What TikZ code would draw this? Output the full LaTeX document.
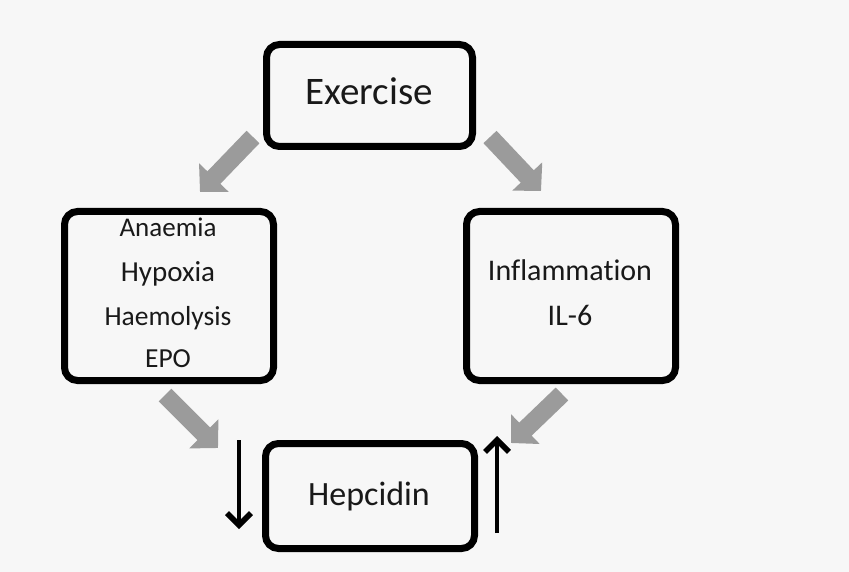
\documentclass[tikz,border=0pt]{standalone}
\usepackage{fontspec}
\setmainfont{Carlito}[Ligatures=NoCommon]
\usetikzlibrary{arrows.meta,shadows}
\definecolor{bg}{RGB}{247,247,247}
\definecolor{arrowgray}{RGB}{155,155,155}
\begin{document}
\begin{tikzpicture}[x=1pt,y=-1pt,
  box/.style={draw=black, line width=7pt, rounded corners=13pt, fill=bg,
    inner sep=0pt, outer sep=0pt,
    drop shadow={shadow xshift=2pt, shadow yshift=-3pt, opacity=0.3, fill=black!70}},
  garrow/.style={draw=arrowgray, line width=18pt, -{Triangle[length=20pt,width=40pt]}},
  barrow/.style={draw=black, line width=4.5pt, -{Straight Barb[length=12pt 0 0,width=24pt 0 0,line width=5.5pt]}},
  txt/.style={anchor=base, inner sep=0pt, text=black!90}
]
\fill[bg] (0,0) rectangle (849,572);
\useasboundingbox (0,0) rectangle (849,572);

% boxes
\node[box, minimum width=206pt, minimum height=102pt] (ex) at (369.5,95.5) {};
\node[box, minimum width=209pt, minimum height=169pt] (lb) at (169,296) {};
\node[box, minimum width=209pt, minimum height=169pt] (rb) at (571,296) {};
\node[box, minimum width=209pt, minimum height=105pt] (hep) at (370,496) {};

% texts
\node[txt, font=\fontsize{39}{39}\selectfont] (tex) at (369,105) {Exercise};
\node[txt, font=\fontsize{27}{27}\selectfont] (ta) at (168,237) {Anaemia};
\node[txt, font=\fontsize{29}{29}\selectfont] (th) at (168,282) {Hypoxia};
\node[txt, font=\fontsize{27.5}{27.5}\selectfont] (tm) at (168,325) {Haemolysis};
\node[txt, font=\fontsize{27.5}{27.5}\selectfont] (te) at (168,367) {EPO};
\node[txt, font=\fontsize{30}{30}\selectfont] (ti) at (570,280) {Inflammation};
\node[txt, font=\fontsize{30}{30}\selectfont] (tl) at (570,325) {IL-6};
\node[txt, font=\fontsize{34}{34}\selectfont] (thp) at (369,505) {Hepcidin};

% gray arrow end points
\coordinate (g1s) at (253,137); \coordinate (g1e) at (200,192);
\coordinate (g2s) at (490,137); \coordinate (g2e) at (541,191);
\coordinate (g3s) at (165,395); \coordinate (g3e) at (218,448);
\coordinate (g4s) at (562,394); \coordinate (g4e) at (511,443);
\draw[garrow] (g1s) -- (g1e);
\draw[garrow] (g2s) -- (g2e);
\draw[garrow] (g3s) -- (g3e);
\draw[garrow] (g4s) -- (g4e);

% black arrows
\coordinate (b1s) at (239,440); \coordinate (b1e) at (239,529);
\coordinate (b2s) at (497,533); \coordinate (b2e) at (497,436);
\draw[barrow] (b1s) -- (b1e);
\draw[barrow] (b2s) -- (b2e);
\end{tikzpicture}
\end{document}
